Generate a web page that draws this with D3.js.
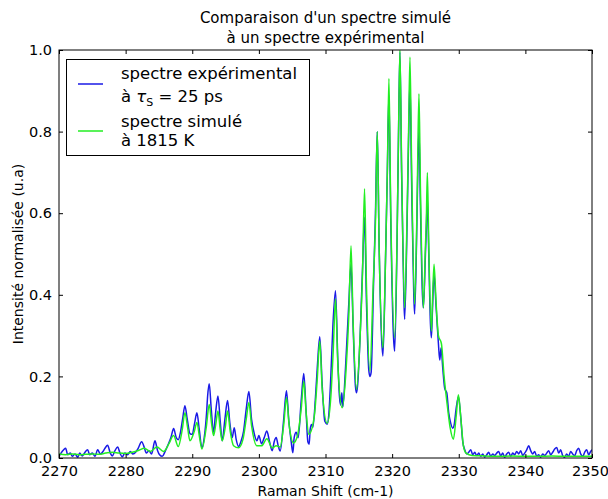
<!DOCTYPE html>
<html><head><meta charset="utf-8">
<script src="https://cdn.jsdelivr.net/npm/d3@7"></script>
<style>
body{margin:0;background:#fff;}
svg{display:block;font-family:"DejaVu Sans",sans-serif;}
</style></head>
<body><svg id="chart" width="608" height="499"></svg>
<script>
const titleLines = ["Comparaison d'un spectre simulé", "à un spectre expérimental"];
const xLabel = "Raman Shift (cm-1)";
const yLabel = "Intensité normalisée (u.a)";
const xTicks = [2270,2280,2290,2300,2310,2320,2330,2340,2350];
const yTicks = [0.0,0.2,0.4,0.6,0.8,1.0];

// experimental spectrum (blue) [Raman shift, intensity]
const experimental = [
[2270.0,0.004],[2270.3,0.012],[2270.7,0.020],[2271.0,0.024],[2271.3,0.008],[2271.7,0.012],[2272.0,0.004],[2272.4,0.010],
[2272.8,0.002],[2273.1,0.012],[2273.5,0.005],[2273.9,0.014],[2274.3,0.020],[2274.6,0.008],[2275.0,0.012],[2275.4,0.004],
[2275.8,0.020],[2276.2,0.010],[2276.6,0.016],[2276.9,0.024],[2277.3,0.031],[2277.7,0.012],[2278.0,0.005],[2278.4,0.018],
[2278.8,0.027],[2279.2,0.010],[2279.5,0.003],[2279.9,0.012],[2280.3,0.008],[2280.7,0.016],[2281.1,0.010],[2281.5,0.014],
[2281.9,0.024],[2282.4,0.040],[2282.8,0.026],[2283.1,0.012],[2283.5,0.018],[2283.9,0.010],[2284.4,0.042],[2284.8,0.018],
[2285.1,0.008],[2285.5,0.004],[2285.9,0.015],[2286.3,0.030],[2286.8,0.050],[2287.2,0.072],[2287.6,0.050],[2287.9,0.045],
[2288.2,0.060],[2288.55,0.095],[2288.9,0.128],[2289.25,0.095],[2289.65,0.060],[2290.0,0.058],[2290.35,0.085],[2290.7,0.111],
[2291.05,0.070],[2291.45,0.025],[2291.8,0.050],[2292.15,0.110],[2292.3,0.150],[2292.55,0.182],[2292.85,0.120],[2293.2,0.063],
[2293.5,0.110],[2293.86,0.152],[2294.2,0.090],[2294.5,0.042],[2294.9,0.095],[2295.3,0.141],[2295.65,0.085],[2296.0,0.050],
[2296.3,0.074],[2296.6,0.045],[2296.95,0.028],[2297.3,0.040],[2297.7,0.065],[2298.1,0.120],[2298.5,0.163],[2298.9,0.095],
[2299.3,0.060],[2299.7,0.042],[2300.0,0.055],[2300.4,0.035],[2300.8,0.050],[2301.2,0.066],[2301.6,0.040],[2302.0,0.018],
[2302.3,0.040],[2302.6,0.050],[2302.9,0.030],[2303.2,0.017],[2303.7,0.090],[2304.14,0.165],[2304.5,0.090],[2304.85,0.040],
[2305.1,0.013],[2305.3,0.050],[2305.6,0.063],[2305.9,0.050],[2306.35,0.140],[2306.74,0.207],[2307.1,0.110],[2307.35,0.040],
[2307.55,0.034],[2307.7,0.070],[2307.9,0.082],[2308.1,0.075],[2308.5,0.150],[2308.8,0.230],[2309.14,0.297],[2309.5,0.180],
[2309.9,0.090],[2310.25,0.083],[2310.5,0.107],[2310.8,0.200],[2311.1,0.320],[2311.5,0.410],[2311.85,0.240],[2312.1,0.150],
[2312.25,0.130],[2312.45,0.160],[2312.6,0.125],[2313.0,0.220],[2313.5,0.380],[2313.83,0.475],[2314.15,0.320],[2314.5,0.175],
[2314.66,0.160],[2314.8,0.175],[2315.2,0.300],[2315.55,0.460],[2315.86,0.590],[2316.15,0.380],[2316.5,0.215],[2316.66,0.200],
[2316.85,0.210],[2317.2,0.420],[2317.5,0.600],[2317.77,0.800],[2318.05,0.520],[2318.4,0.300],[2318.62,0.250],[2319.0,0.480],
[2319.28,0.700],[2319.52,0.890],[2319.78,0.600],[2320.2,0.300],[2320.38,0.262],[2320.75,0.540],[2320.95,0.780],[2321.17,0.995],
[2321.42,0.700],[2321.75,0.400],[2321.88,0.340],[2322.25,0.580],[2322.47,0.780],[2322.68,0.926],[2322.92,0.680],[2323.25,0.400],
[2323.38,0.353],[2323.72,0.580],[2323.85,0.700],[2324.03,0.806],[2324.25,0.620],[2324.55,0.400],[2324.69,0.368],[2325.0,0.500],
[2325.13,0.560],[2325.29,0.637],[2325.5,0.500],[2325.75,0.330],[2325.89,0.295],[2326.05,0.360],[2326.29,0.450],[2326.6,0.370],
[2326.95,0.280],[2327.15,0.240],[2327.35,0.270],[2327.6,0.220],[2327.9,0.170],[2328.2,0.160],[2328.5,0.110],[2328.8,0.085],
[2329.1,0.073],[2329.3,0.080],[2329.6,0.120],[2329.95,0.150],[2330.3,0.100],[2330.6,0.040],[2330.9,0.020],[2331.2,0.010],
[2331.5,0.014],[2331.8,0.020],[2332.1,0.008],[2332.4,0.014],[2332.7,0.006],[2333.0,0.012],[2333.3,0.004],[2333.6,0.010],
[2333.9,0.002],[2334.2,0.008],[2334.5,0.014],[2334.8,0.004],[2335.1,0.010],[2335.4,0.006],[2335.7,0.012],[2336.0,0.016],
[2336.3,0.005],[2336.6,0.012],[2336.9,0.002],[2337.2,0.010],[2337.5,0.014],[2337.8,0.004],[2338.1,0.012],[2338.4,0.008],
[2338.7,0.016],[2339.0,0.010],[2339.3,0.018],[2339.6,0.006],[2339.9,0.012],[2340.2,0.020],[2340.5,0.030],[2340.8,0.018],
[2341.1,0.010],[2341.4,0.016],[2341.7,0.004],[2342.0,0.008],[2342.3,0.002],[2342.6,0.010],[2342.9,0.006],[2343.2,0.012],
[2343.5,0.018],[2343.8,0.008],[2344.1,0.014],[2344.4,0.022],[2344.7,0.026],[2345.0,0.012],[2345.3,0.020],[2345.6,0.006],
[2345.9,0.002],[2346.2,0.010],[2346.5,0.004],[2346.8,0.016],[2347.1,0.010],[2347.4,0.006],[2347.7,0.018],[2348.0,0.024],
[2348.3,0.010],[2348.6,0.004],[2348.9,0.014],[2349.2,0.020],[2349.5,0.008],[2349.8,0.016],[2350.0,0.020]
];

// simulated spectrum (green) [Raman shift, intensity]
const simulated = [
[2270.0,0.010],[2271.0,0.008],[2272.0,0.010],[2273.0,0.008],[2274.0,0.009],[2275.0,0.010],[2276.0,0.009],[2277.0,0.012],
[2278.0,0.014],[2279.0,0.012],[2280.0,0.011],[2281.0,0.014],[2282.0,0.019],[2282.8,0.024],[2283.7,0.016],[2284.7,0.027],
[2285.7,0.016],[2286.5,0.035],[2287.2,0.055],[2287.9,0.028],[2288.5,0.070],[2288.9,0.111],[2289.3,0.075],[2289.65,0.042],
[2290.3,0.065],[2290.7,0.087],[2291.1,0.050],[2291.45,0.022],[2292.1,0.075],[2292.55,0.131],[2292.9,0.085],[2293.2,0.055],
[2293.55,0.085],[2293.86,0.115],[2294.2,0.070],[2294.5,0.042],[2294.95,0.075],[2295.3,0.115],[2295.7,0.065],[2296.2,0.030],
[2296.95,0.025],[2297.6,0.045],[2298.1,0.095],[2298.5,0.136],[2298.9,0.080],[2299.7,0.030],[2300.4,0.030],[2301.2,0.047],
[2302.0,0.025],[2302.6,0.030],[2303.2,0.027],[2303.75,0.085],[2304.14,0.148],[2304.55,0.080],[2305.2,0.037],[2305.8,0.055],
[2306.35,0.120],[2306.74,0.188],[2307.1,0.110],[2307.5,0.058],[2308.3,0.100],[2308.75,0.190],[2309.14,0.287],[2309.5,0.170],
[2310.25,0.085],[2310.8,0.150],[2311.15,0.260],[2311.5,0.390],[2311.85,0.230],[2312.5,0.123],[2313.1,0.220],[2313.5,0.350],
[2313.83,0.520],[2314.15,0.330],[2314.66,0.168],[2315.2,0.300],[2315.55,0.450],[2315.86,0.660],[2316.15,0.420],[2316.66,0.213],
[2317.15,0.420],[2317.5,0.580],[2317.77,0.800],[2318.05,0.520],[2318.62,0.270],[2319.05,0.520],[2319.28,0.700],[2319.52,0.930],
[2319.78,0.620],[2320.38,0.295],[2320.75,0.550],[2320.95,0.780],[2321.17,1.000],[2321.42,0.720],[2321.88,0.368],[2322.25,0.600],
[2322.47,0.800],[2322.68,0.983],[2322.92,0.720],[2323.38,0.377],[2323.72,0.600],[2323.85,0.740],[2324.03,0.893],[2324.25,0.660],
[2324.69,0.368],[2325.0,0.520],[2325.13,0.580],[2325.29,0.700],[2325.5,0.520],[2325.89,0.311],[2326.05,0.380],[2326.29,0.475],
[2326.6,0.380],[2326.95,0.300],[2327.4,0.280],[2327.8,0.200],[2328.2,0.140],[2328.7,0.075],[2329.2,0.046],[2329.6,0.100],
[2329.95,0.155],[2330.3,0.100],[2330.7,0.030],[2331.1,0.012],[2332.0,0.006],[2334.0,0.005],[2336.0,0.004],[2338.0,0.005],
[2340.0,0.004],[2342.0,0.004],[2344.0,0.005],[2346.0,0.004],[2348.0,0.004],[2350.0,0.004]
];

const W = 608, H = 499;
const margin = {left: 59, right: 16, top: 50, bottom: 41};
const svg = d3.select("#chart");
const x = d3.scaleLinear().domain([2270, 2350]).range([margin.left, W - margin.right]);
const y = d3.scaleLinear().domain([0, 1]).range([H - margin.bottom, margin.top]);

svg.append("clipPath").attr("id","clip").append("rect")
  .attr("x", x(2270)).attr("y", y(1)).attr("width", x(2350)-x(2270)).attr("height", y(0)-y(1));

const line = d3.line().x(d => x(d[0])).y(d => y(d[1])).curve(d3.curveMonotoneX);
const g = svg.append("g").attr("clip-path","url(#clip)");
g.append("path").datum(experimental).attr("d", line)
  .attr("fill","none").attr("stroke","#1a1ae6").attr("stroke-width",1.5).attr("stroke-linejoin","round");
g.append("path").datum(simulated).attr("d", line)
  .attr("fill","none").attr("stroke","#22ee22").attr("stroke-width",1.5).attr("stroke-linejoin","round");

// axes (ticks inside on all four sides)
const tickFont = "14.5px";
const axB = svg.append("g").attr("transform", `translate(0,${y(0)})`)
  .call(d3.axisBottom(x).tickValues(xTicks).tickFormat(d3.format("d")).tickSizeInner(-4).tickSizeOuter(0).tickPadding(8));
const axT = svg.append("g").attr("transform", `translate(0,${y(1)})`)
  .call(d3.axisTop(x).tickValues(xTicks).tickFormat("").tickSizeInner(-4).tickSizeOuter(0));
const axL = svg.append("g").attr("transform", `translate(${x(2270)},0)`)
  .call(d3.axisLeft(y).tickValues(yTicks).tickFormat(d3.format(".1f")).tickSizeInner(-4).tickSizeOuter(0).tickPadding(7));
const axR = svg.append("g").attr("transform", `translate(${x(2350)},0)`)
  .call(d3.axisRight(y).tickValues(yTicks).tickFormat("").tickSizeInner(-4).tickSizeOuter(0));
[axB, axT, axL, axR].forEach(a => {
  a.select(".domain").remove();
  a.selectAll("line").attr("stroke","#000");
  a.selectAll("text").attr("fill","#000").style("font-size", tickFont).style("font-family","DejaVu Sans");
});
// keep the last x tick label inside the page
axB.selectAll(".tick").filter(d => d === 2350).select("text").attr("dx", -2);
svg.append("rect").attr("x", x(2270)).attr("y", y(1)).attr("width", x(2350)-x(2270)).attr("height", y(0)-y(1))
  .attr("fill","none").attr("stroke","#000").attr("stroke-width",1);

// titles
svg.selectAll("text.title").data(titleLines).enter().append("text").attr("class","title")
  .attr("x", (x(2270)+x(2350))/2).attr("y", (d,i) => 23 + i*20)
  .attr("text-anchor","middle").style("font-size","15px").text(d => d);
svg.append("text").attr("x",(x(2270)+x(2350))/2).attr("y",496).attr("text-anchor","middle")
  .style("font-size","14px").text(xLabel);
svg.append("text").attr("transform",`translate(23,${(y(0)+y(1))/2}) rotate(-90)`).attr("text-anchor","middle")
  .style("font-size","14px").text(yLabel);

// legend
const lg = svg.append("g");
lg.append("rect").attr("x",66.5).attr("y",59.5).attr("width",243).attr("height",96)
  .attr("fill","#fff").attr("stroke","#000").attr("stroke-width",1);
lg.append("line").attr("x1",78).attr("x2",103).attr("y1",84).attr("y2",84).attr("stroke","#1a1ae6").attr("stroke-width",1.5);
lg.append("line").attr("x1",78).attr("x2",103).attr("y1",131).attr("y2",131).attr("stroke","#22ee22").attr("stroke-width",1.5);
const lf = "16.5px";
lg.append("text").attr("x",121).attr("y",79).style("font-size",lf).text("spectre expérimental");
const t2 = lg.append("text").attr("x",121).attr("y",102).style("font-size",lf);
t2.append("tspan").text("à ");
t2.append("tspan").style("font-style","italic").text("τ");
t2.append("tspan").attr("dy",4).style("font-size","11px").text("S");
t2.append("tspan").attr("dy",-4).text(" = 25 ps");
lg.append("text").attr("x",121).attr("y",127).style("font-size",lf).text("spectre simulé");
lg.append("text").attr("x",121).attr("y",146).style("font-size",lf).text("à 1815 K");
</script></body></html>
